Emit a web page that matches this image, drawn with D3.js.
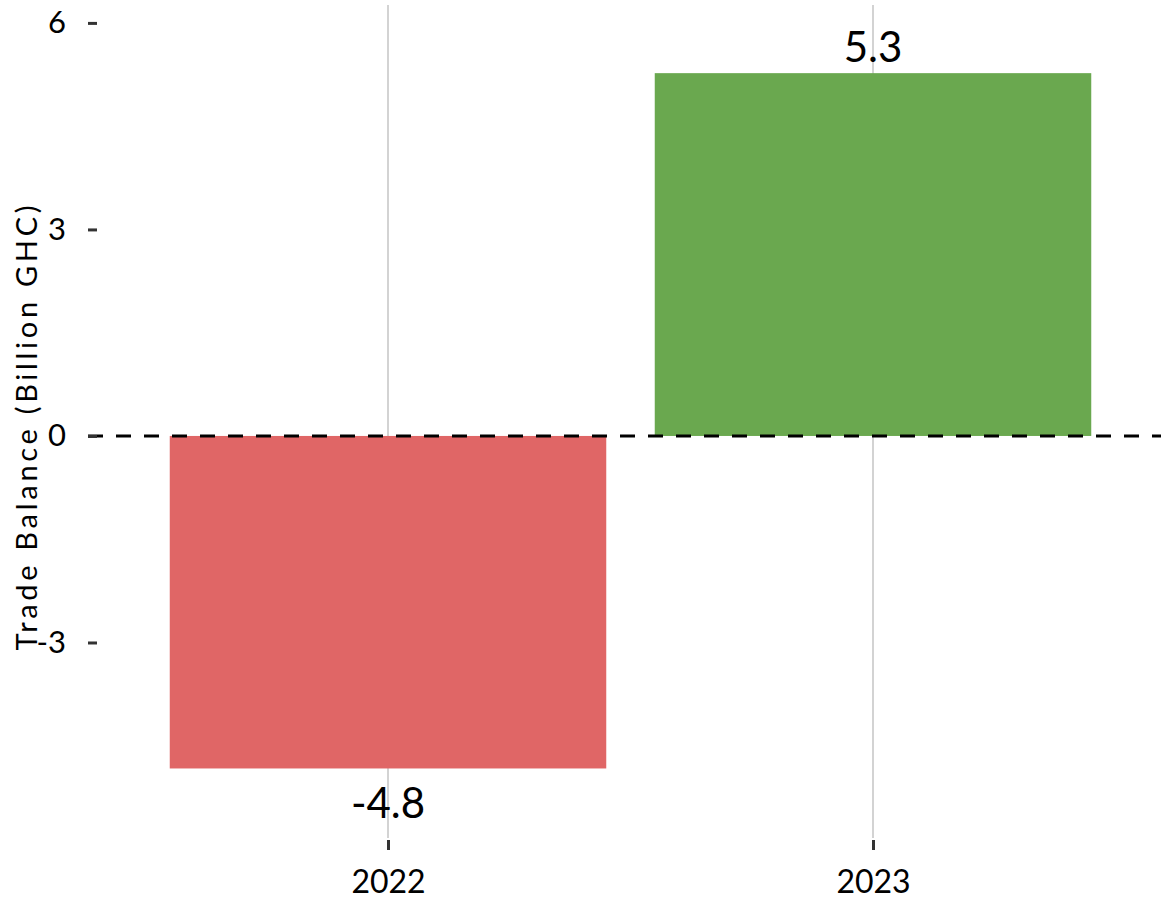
<!DOCTYPE html>
<html>
<head>
<meta charset="utf-8">
<script src="https://cdn.jsdelivr.net/npm/d3@7"></script>
<style>
  html, body { margin: 0; padding: 0; background: #fff; }
  svg { display: block; }
  text { font-family: Lato, "DejaVu Sans", sans-serif; fill: #000; }
</style>
</head>
<body>
<svg id="chart" width="1161" height="903"></svg>
<script>
// Trade balance by year, billions of GHC
const years = ["2022", "2023"];
const balances = [-4.83, 5.27];
const valueLabels = ["-4.8", "5.3"];
const yTicks = [-3, 0, 3, 6];
const yTickLabels = ["-3", "0", "3", "6"];
const barColors = ["#E06666", "#6AA84F"];

const W = 1161, H = 903;
const panel = { left: 97, right: 1164, top: 5, bottom: 838 };

const svg = d3.select("#chart");

// Discrete x scale with 0.6-band padding on each side
const xPos = d3.scaleLinear()
  .domain([0.4, years.length + 0.6])
  .range([panel.left, panel.right]);
const unit = xPos(2) - xPos(1);
const barW = unit * 0.9;

const y = d3.scaleLinear()
  .domain([-5.84, 6.26])
  .range([panel.bottom, panel.top]);

// Vertical grid lines at each category
svg.append("g")
  .selectAll("line")
  .data(years)
  .join("line")
  .attr("x1", (d, i) => xPos(i + 1))
  .attr("x2", (d, i) => xPos(i + 1))
  .attr("y1", panel.top)
  .attr("y2", panel.bottom)
  .attr("stroke", "#c8c8c8")
  .attr("stroke-width", 1.6);

// Bars
svg.append("g")
  .selectAll("rect")
  .data(balances)
  .join("rect")
  .attr("x", (d, i) => xPos(i + 1) - barW / 2)
  .attr("width", barW)
  .attr("y", d => y(Math.max(0, d)))
  .attr("height", d => Math.abs(y(d) - y(0)))
  .attr("fill", (d, i) => barColors[i]);

// Zero reference line
svg.append("line")
  .attr("x1", 88)
  .attr("x2", W)
  .attr("y1", y(0))
  .attr("y2", y(0))
  .attr("stroke", "#000")
  .attr("stroke-width", 3)
  .attr("stroke-dasharray", "15,13");

// Value labels
svg.append("g")
  .selectAll("text")
  .data(balances)
  .join("text")
  .attr("x", (d, i) => xPos(i + 1))
  .attr("y", d => d >= 0 ? y(d) - 11 : y(d) + 50)
  .attr("text-anchor", "middle")
  .attr("font-size", 42)
  .text((d, i) => valueLabels[i]);

// Y axis
const yAxis = d3.axisLeft(y)
  .tickValues(yTicks)
  .tickSize(9)
  .tickPadding(22)
  .tickFormat((d, i) => yTickLabels[i]);
const gy = svg.append("g")
  .attr("transform", `translate(${panel.left},0)`)
  .call(yAxis);
gy.select(".domain").remove();
gy.selectAll(".tick line").attr("stroke", "#333").attr("stroke-width", 3);
gy.selectAll(".tick text").attr("font-size", 31).attr("fill", "#000");

// X axis
const xAxis = d3.axisBottom(xPos)
  .tickValues(years.map((d, i) => i + 1))
  .tickSize(10)
  .tickPadding(20)
  .tickFormat(d => years[d - 1]);
const gx = svg.append("g")
  .attr("transform", `translate(0,${panel.bottom + 2})`)
  .call(xAxis);
gx.select(".domain").remove();
gx.selectAll(".tick line").attr("stroke", "#333").attr("stroke-width", 3);
gx.selectAll(".tick text").attr("font-size", 32).attr("fill", "#000");

// Y axis title
svg.append("text")
  .attr("transform", `translate(37,${428}) rotate(-90)`)
  .attr("text-anchor", "middle")
  .attr("font-size", 29)
  .attr("textLength", 445)
  .attr("lengthAdjust", "spacing")
  .text("Trade Balance (Billion GHC)");
</script>
</body>
</html>
